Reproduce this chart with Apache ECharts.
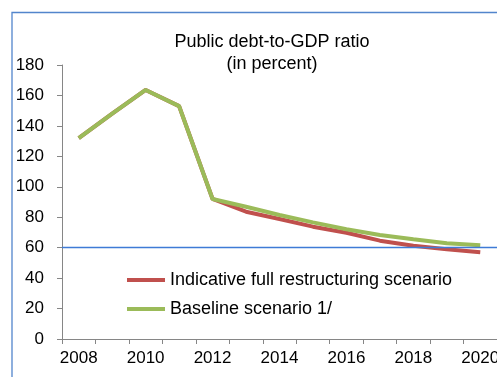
<!DOCTYPE html>
<html>
<head>
<meta charset="utf-8">
<script src="https://cdn.jsdelivr.net/npm/echarts@6/dist/echarts.min.js"></script>
<style>
  html, body { margin: 0; padding: 0; background: #fff; }
  #chart { width: 497px; height: 377px; }
</style>
</head>
<body>
<div id="chart"></div>
<script>
// Years on the horizontal axis
const years = ['2008', '2009', '2010', '2011', '2012', '2013', '2014',
               '2015', '2016', '2017', '2018', '2019', '2020'];

// Public debt, percent of GDP
const restructuring = [132, 148, 163.6, 153, 92, 83.6, 78.8, 73.8, 69.8, 64.6, 61.3, 58.9, 57.0];
const baseline      = [132, 148, 163.6, 153, 92, 86.9, 81.5, 76.6, 72.1, 68.3, 65.5, 62.9, 61.6];

// Reference threshold (60 percent of GDP)
const threshold = 60;

const titleLines = ['Public debt-to-GDP ratio', '(in percent)'];
const seriesNames = ['Indicative full restructuring scenario', 'Baseline scenario 1/'];

const FONT = '"Liberation Sans", Arial, sans-serif';
const axisGray = '#868686';
const thresholdBlue = '#3f7bd6';

const chart = echarts.init(document.getElementById('chart'), null, { renderer: 'canvas' });

chart.setOption({
  animation: false,
  backgroundColor: '#ffffff',
  grid: {
    left: 62, right: 0, top: 65, bottom: 38,
    containLabel: false,
    outerBoundsMode: 'none'
  },
  graphic: [
    {
      type: 'rect',
      shape: { x: 12, y: 12.5, width: 600, height: 500 },
      style: { fill: 'none', stroke: '#5285cc', lineWidth: 1.3 },
      silent: true
    },
    {
      type: 'text',
      x: 272, y: 31,
      style: {
        text: titleLines.join('\n'),
        font: '18px ' + FONT,
        fill: '#000',
        textAlign: 'center',
        lineHeight: 22
      }
    }
  ],
  legend: {
    orient: 'vertical',
    left: 122,
    top: 266,
    itemGap: 11,
    itemWidth: 38,
    itemHeight: 4,
    icon: 'rect',
    data: seriesNames,
    textStyle: { fontFamily: FONT, fontSize: 18, color: '#000' }
  },
  xAxis: {
    type: 'category',
    data: years,
    boundaryGap: true,
    axisLine: { lineStyle: { color: axisGray, width: 1 } },
    axisTick: { show: true, interval: 0, length: 5, lineStyle: { color: axisGray } },
    axisLabel: { interval: 1, margin: 11, fontFamily: FONT, fontSize: 17, color: '#000', hideOverlap: false },
    splitLine: { show: false }
  },
  yAxis: {
    type: 'value',
    min: 0, max: 180, interval: 20,
    axisLine: { show: true, lineStyle: { color: axisGray, width: 1 } },
    axisTick: { show: true, length: 5, lineStyle: { color: axisGray } },
    axisLabel: { margin: 18, fontFamily: FONT, fontSize: 17, color: '#000' },
    splitLine: { show: false }
  },
  series: [
    {
      name: seriesNames[0],
      type: 'line',
      data: restructuring,
      symbol: 'none',
      lineStyle: { color: '#c0504d', width: 4 },
      itemStyle: { color: '#c0504d' },
      markLine: {
        silent: true,
        symbol: ['none', 'none'],
        label: { show: false },
        emphasis: { disabled: true },
        lineStyle: { color: thresholdBlue, width: 1.3, type: 'solid', opacity: 1 },
        itemStyle: { color: thresholdBlue },
        data: [{ yAxis: threshold, lineStyle: { color: thresholdBlue } }]
      },
      z: 2
    },
    {
      name: seriesNames[1],
      type: 'line',
      data: baseline,
      symbol: 'none',
      lineStyle: { color: '#9bbb59', width: 4 },
      itemStyle: { color: '#9bbb59' },
      z: 3
    }
  ]
});
</script>
</body>
</html>
